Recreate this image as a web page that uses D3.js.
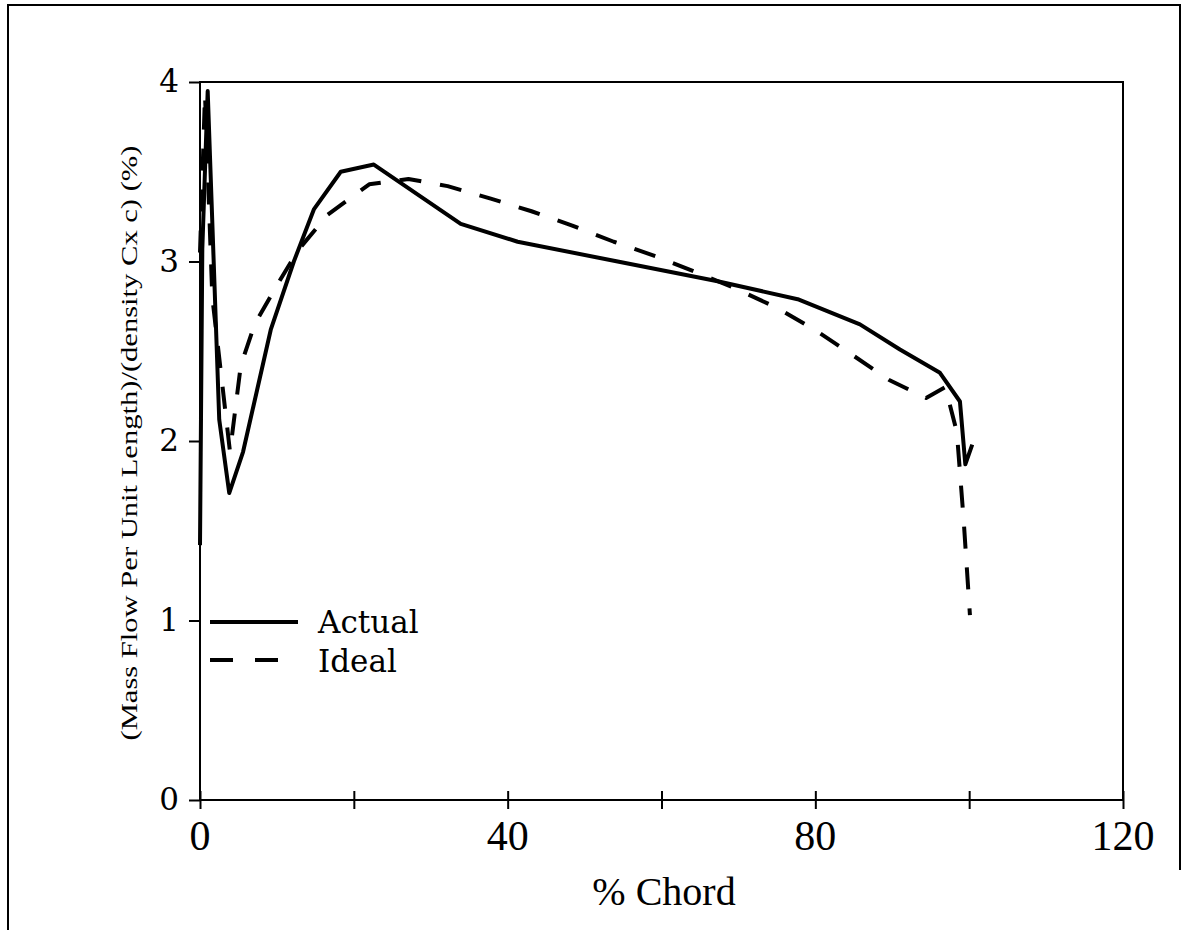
<!DOCTYPE html>
<html>
<head>
<meta charset="utf-8">
<script src="https://cdn.jsdelivr.net/npm/d3@7"></script>
<style>
  body { margin: 0; background: #fff; }
  svg { display: block; }
</style>
</head>
<body>
<div id="chart"></div>
<script>
// values (% chord vs mass flow ratio)
let chordActual = [0, 0.3, 1.0, 2.5, 3.8, 5.6, 9.2, 12.2, 14.8, 18.3, 22.6, 33.9, 41.3, 54.3, 67.3, 77.7, 85.8, 91.0, 96.2, 98.8, 99.5, 100.4];
let flowActual  = [1.42, 3.07, 3.95, 2.12, 1.71, 1.94, 2.62, 3.0, 3.29, 3.5, 3.54, 3.21, 3.11, 3.0, 2.89, 2.79, 2.65, 2.51, 2.38, 2.22, 1.87, 1.98];

let chordIdeal = [0, 0.65, 1.6, 3.9, 5.3, 7.1, 9.9, 12.7, 16.6, 22.0, 27.1, 32.2, 37.8, 43.1, 48.4, 53.8, 59.2, 64.5, 69.6, 75.1, 79.9, 84.8, 89.6, 94.4, 96.9, 98.4, 99.3, 100.1];
let flowIdeal  = [3.05, 3.93, 2.8, 1.94, 2.42, 2.65, 2.86, 3.06, 3.26, 3.43, 3.46, 3.42, 3.35, 3.28, 3.20, 3.11, 3.03, 2.94, 2.85, 2.74, 2.62, 2.48, 2.34, 2.24, 2.30, 2.05, 1.55, 1.03];

let xTicks = [0, 20, 40, 60, 80, 100, 120];
let xTickLabels = [0, 40, 80, 120];
let yTicks = [0, 1, 2, 3, 4];
let seriesNames = ["Actual", "Ideal"];

let W = 1183, H = 930;
let margin = {top: 82, right: 60, bottom: 130, left: 200},
    width = 1123 - margin.left,
    height = 800 - margin.top;

let svg = d3.select("#chart")
            .append("svg")
            .attr("width", W)
            .attr("height", H);

// outer frame
svg.append("path")
   .attr("d", "M8,930 L8,5 L1180,5 L1180,870")
   .attr("fill", "none")
   .attr("stroke", "#000")
   .attr("stroke-width", 2);

let g = svg.append("g")
           .attr("transform", "translate(" + margin.left + "," + margin.top + ")");

let x = d3.scaleLinear().domain([0, 120]).range([0, width]);
let y = d3.scaleLinear().domain([0, 4]).range([height, 0]);

// plot box
g.append("rect")
 .attr("width", width)
 .attr("height", height)
 .attr("fill", "none")
 .attr("stroke", "#000")
 .attr("stroke-width", 2);

// x axis: ticks crossing the line
let xAxis = g.append("g")
             .attr("transform", "translate(0," + height + ")")
             .call(d3.axisBottom(x).tickValues(xTicks).tickSize(9).tickFormat(""));
xAxis.select(".domain").remove();
xAxis.selectAll(".tick line").attr("y1", -9).attr("stroke-width", 2);

g.selectAll(".xlab")
 .data(xTickLabels)
 .enter().append("text")
 .attr("class", "xlab")
 .attr("x", d => x(d))
 .attr("y", height + 50)
 .attr("text-anchor", "middle")
 .attr("font-family", "Liberation Serif")
 .attr("font-size", 42)
 .text(d => d);

// y axis
let yAxis = g.append("g")
             .call(d3.axisLeft(y).tickValues(yTicks).tickSize(11).tickPadding(10).tickFormat(d3.format("d")));
yAxis.select(".domain").remove();
yAxis.selectAll(".tick line").attr("stroke-width", 2);
yAxis.selectAll(".tick text")
     .attr("font-family", "DejaVu Serif")
     .attr("font-size", 31)
     .attr("fill", "#000");

// axis titles
svg.append("text")
   .attr("x", 664)
   .attr("y", 905)
   .attr("text-anchor", "middle")
   .attr("font-family", "Liberation Serif")
   .attr("font-size", 40)
   .text("% Chord");

svg.append("text")
   .attr("transform", "translate(137,443) rotate(-90)")
   .attr("text-anchor", "middle")
   .attr("font-family", "Liberation Serif")
   .attr("font-size", 23)
   .attr("textLength", 595)
   .attr("lengthAdjust", "spacingAndGlyphs")
   .text("(Mass Flow Per Unit Length)/(density Cx c) (%)");

// series
let line = d3.line()
             .x(d => x(d[0]))
             .y(d => y(d[1]));

let actual = d3.zip(chordActual, flowActual);
let ideal = d3.zip(chordIdeal, flowIdeal);

g.append("path")
 .datum(ideal)
 .attr("d", line)
 .attr("fill", "none")
 .attr("stroke", "#000")
 .attr("stroke-width", 4)
 .attr("stroke-dasharray", "22,19")
 .attr("stroke-linejoin", "round");

g.append("path")
 .datum(actual)
 .attr("d", line)
 .attr("fill", "none")
 .attr("stroke", "#000")
 .attr("stroke-width", 4)
 .attr("stroke-linejoin", "round");

// legend
let legend = svg.append("g");
let dashes = [null, "23,22"];
let legendEnd = [298, 280];
seriesNames.forEach(function(name, i) {
  legend.append("line")
        .attr("x1", 210).attr("x2", legendEnd[i])
        .attr("y1", 622 + i * 38).attr("y2", 622 + i * 38)
        .attr("stroke", "#000")
        .attr("stroke-width", 4)
        .attr("stroke-dasharray", dashes[i]);
  legend.append("text")
        .attr("x", 318)
        .attr("y", 633 + i * 39)
        .attr("font-family", "DejaVu Serif")
        .attr("font-size", 31)
        .text(name);
});
</script>
</body>
</html>
